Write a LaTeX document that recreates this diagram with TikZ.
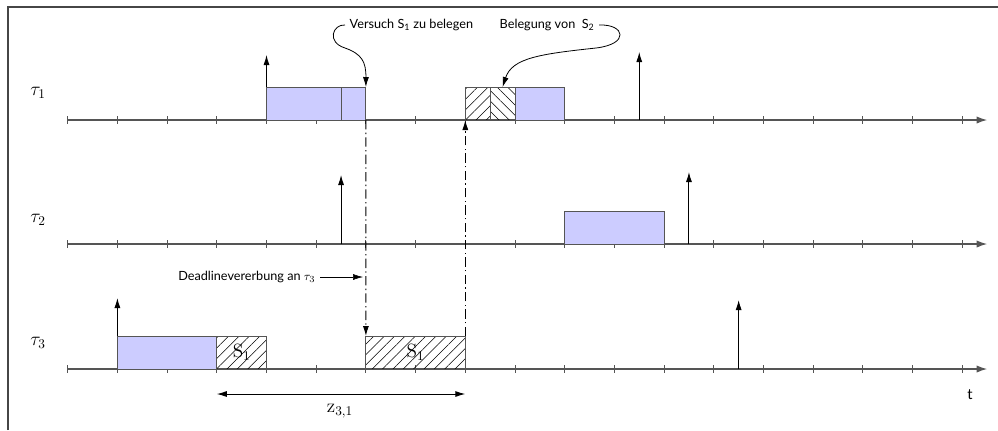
\documentclass[tikz,border=0pt]{standalone}
\usepackage[no-math]{fontspec}
\setmainfont{Lato}
\usetikzlibrary{arrows.meta,patterns.meta}
\newlength\tickw
\setlength\tickw{37.275pt}
\begin{document}
\begin{tikzpicture}[x=0.75pt,y=-0.75pt,
    font=\fontsize{9.5}{11}\selectfont,
    >={Latex[length=7.5pt,width=4.5pt]},
    axis/.style={draw=axisgray,line width=0.9pt,-{Latex[length=8pt,width=5.5pt]}},
    tickmark/.style={draw=axisgray,line width=0.7pt},
    release/.style={draw=black,line width=0.7pt,->},
    boxbase/.style={draw=axisgray,line width=0.7pt,inner sep=0pt,outer sep=0pt,
      minimum height=24.75pt,anchor=south west},
    job/.style={boxbase,fill=jobblue},
    crit/.style={boxbase,pattern={Lines[angle=#1,distance=5.5pt,line width=0.4pt]}},
    crit/.default=45,
    dashdot/.style={line width=0.7pt,dash pattern=on 7pt off 2.5pt on 1pt off 2.5pt},
    tasklabel/.style={font=\Large}]
  \definecolor{jobblue}{RGB}{204, 204, 255}
  \definecolor{axisgray}{RGB}{85, 85, 85}
  \definecolor{framegray}{RGB}{70, 70, 70}
  \useasboundingbox (0,0) rectangle (998,430);
  \draw[framegray,line width=0.8pt] (8,430) -- (8,7) -- (998,7);
  % task labels
  \node[tasklabel] (t1) at (38,93) {$\tau_1$};
  \node[tasklabel] (t2) at (38,220) {$\tau_2$};
  \node[tasklabel] (t3) at (38,343) {$\tau_3$};
  % tau 1
  \begin{scope}[shift={(67.7,120)},x=\tickw]
    \draw[axis] (0,0) -- (18.5,0);
    \foreach \k in {0,...,18}
      \draw[tickmark] (\k,-4) -- (\k,4);
    \draw[release] (4,0) -- (4,-65);
    \draw[release] (11.5,0) -- (11.5,-68);
    \node[job,minimum width=1.5\tickw] (a1) at (4,0) {};
    \node[job,minimum width=0.5\tickw] (a2) at (5.5,0) {};
    \node[crit=45,minimum width=0.5\tickw] (a3) at (8,0) {};
    \node[crit=-45,minimum width=0.5\tickw] (a4) at (8.5,0) {};
    \node[job,minimum width=\tickw] (a5) at (9,0) {};
  \end{scope}
  % tau 2
  \begin{scope}[shift={(67.7,244)},x=\tickw]
    \draw[axis] (0,0) -- (18.5,0);
    \foreach \k in {0,...,18}
      \draw[tickmark] (\k,-4) -- (\k,4);
    \draw[release] (5.5,0) -- (5.5,-69);
    \draw[release] (12.5,0) -- (12.5,-72);
    \node[job,minimum width=2\tickw] (b1) at (10,0) {};
  \end{scope}
  % tau 3
  \begin{scope}[shift={(67.7,369)},x=\tickw]
    \draw[axis] (0,0) -- (18.5,0);
    \foreach \k in {0,...,18}
      \draw[tickmark] (\k,-4) -- (\k,4);
    \draw[release] (1,0) -- (1,-71);
    \draw[release] (13.5,0) -- (13.5,-69);
    \node[job,minimum width=2\tickw] (c1) at (1,0) {};
    \node[crit,minimum width=\tickw,font=\Large] (c2) at (3,0) {$\mathrm{S}_1$};
    \node[crit,minimum width=2\tickw,font=\Large] (c3) at (6,0) {$\mathrm{S}_1$};
  \end{scope}
  % inheritance of the deadline
  \draw[dashdot,->] (a2.south east) -- (c3.north west);
  \draw[dashdot,->] (c3.north east) -- (a3.south west);
  \node[anchor=east] (dltext) at (320,277) {Deadlinevererbung an $\tau_3$};
  \coordinate (dlend) at (363,277);
  \draw[->] (dltext.east) -- (dlend);
  % annotations
  \node[anchor=west] (vtext) at (345,25) {Versuch S\textsubscript{1} zu belegen};
  \node[anchor=west] (btext) at (495,25) {Belegung von~~S\textsubscript{2}};
  \draw[->,line width=0.6pt] (vtext.west) .. controls (333,24) and (326,42) .. (345,48)
    .. controls (362,54) and (366,62) .. (a2.north east);
  \draw[->,line width=0.6pt] (btext.east) .. controls (625,24) and (630,44) .. (596,48)
    .. controls (540,54) and (512,58) .. (a4.north);
  % blocking interval
  \path (c2.south west) ++(0,25) coordinate (zl);
  \path (c3.south east) ++(0,25) coordinate (zr);
  \draw[<->,line width=0.7pt] (zl) -- (zr);
  \node[font=\Large] (zlab) at (340,411) {$\mathrm{z}_{3,1}$};
  \node[font=\fontsize{11}{13}\selectfont] (tlab) at (970,395) {t};
\end{tikzpicture}
\end{document}
